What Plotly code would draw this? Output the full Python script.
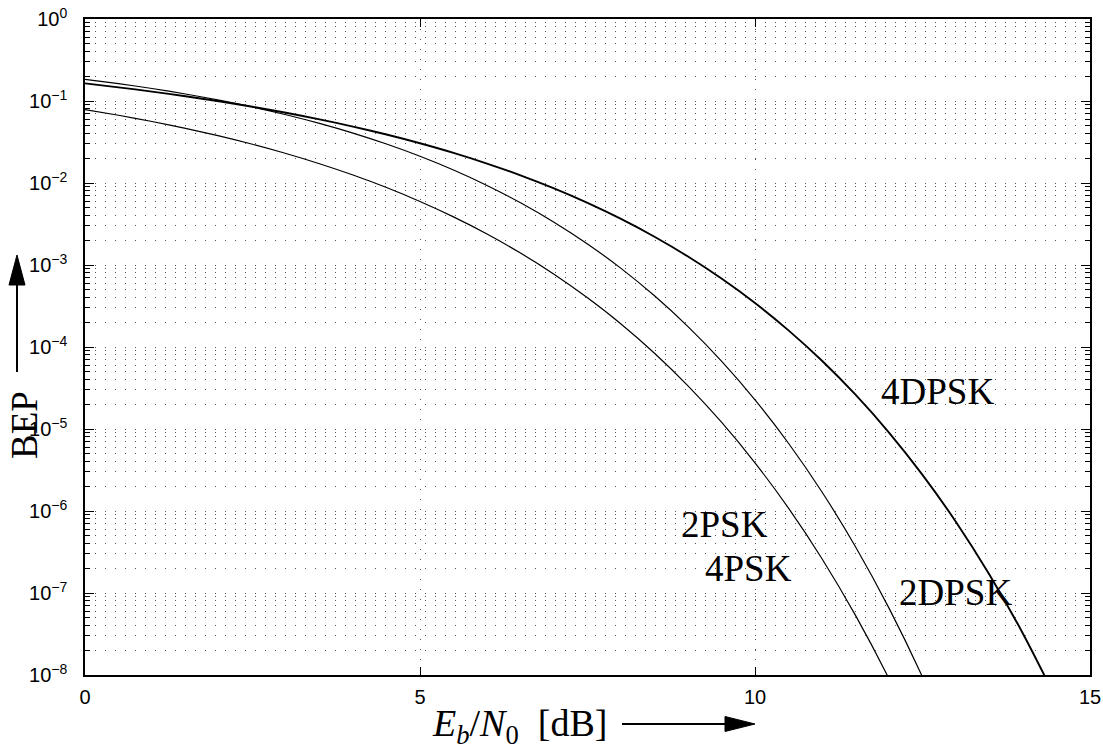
import plotly.graph_objects as go

# ---------------- data ----------------
ebn0_db = [0, 0.5, 1, 1.5, 2, 2.5, 3, 3.5, 4, 4.5, 5, 5.5, 6, 6.5, 7, 7.5,
           8, 8.5, 9, 9.5, 10, 10.5, 11, 11.5, 12, 12.5, 13, 13.5, 14, 14.5]

bep_2psk = [0.07865, 0.06706, 0.05628, 0.04640, 0.03751, 0.02966, 0.02288,
            0.01717, 0.01250, 0.00880, 0.00595, 0.00386, 0.002388, 0.001399,
            7.73e-4, 3.98e-4, 1.91e-4, 8.40e-5, 3.36e-5, 1.21e-5, 3.87e-6,
            1.085e-6, 2.62e-7, 5.33e-8, 9.0e-9, 1.24e-9]

bep_2dpsk = [0.18394, 0.16281, 0.14198, 0.12175, 0.10249, 0.08447, 0.06799,
             0.05329, 0.04057, 0.02985, 0.02116, 0.01439, 0.009333, 0.005742,
             0.003327, 0.001806, 9.10e-4, 4.21e-4, 1.774e-4, 6.73e-5, 2.27e-5,
             6.70e-6, 1.705e-6, 3.67e-7, 6.54e-8, 9.46e-9, 1.08e-9]

bep_4dpsk = [0.1639, 0.1468, 0.1302, 0.1143, 0.0993, 0.0851, 0.0719, 0.0598,
             0.04875, 0.0390, 0.0305, 0.02327, 0.01726, 0.01239, 0.00858,
             0.00572, 0.003646, 0.002211, 0.001269, 6.83e-4, 3.44e-4,
             1.595e-4, 6.80e-5, 2.62e-5, 9.05e-6, 2.76e-6, 7.35e-7, 1.671e-7,
             3.19e-8, 5.02e-9]

x_ticks = [0, 5, 10, 15]
y_exponents = [-8, -7, -6, -5, -4, -3, -2, -1, 0]
y_tick_vals = [10.0 ** e for e in y_exponents]
y_tick_text = ["10<sup>\u2212%d</sup>" % (-e) if e < 0 else "10<sup>0</sup>" for e in y_exponents]
y_minor_vals = [m * 10.0 ** e for e in y_exponents[:-1] for m in range(2, 10)]

curve_labels = [
    # text, x (dB), log10(BEP)
    ("4DPSK", 12.73, -4.545),
    ("2PSK", 9.55, -6.17),
    ("4PSK", 9.91, -6.70),
    ("2DPSK", 12.99, -6.99),
]

# ---------------- figure ----------------
W, H = 1103, 752
ML, MR, MT, MB = 85, 13, 19, 77
PW, PH = W - ML - MR, H - MT - MB


def px2paper_x(px):
    return (px - ML) / PW


def px2paper_y(py):
    return (H - MB - py) / PH


fig = go.Figure()

fig.add_trace(go.Scatter(x=ebn0_db[:len(bep_2psk)], y=bep_2psk, mode="lines",
                         line=dict(color="black", width=1.2, shape="spline", smoothing=0.8),
                         name="2PSK/4PSK", hoverinfo="x+y"))
fig.add_trace(go.Scatter(x=ebn0_db[:len(bep_2dpsk)], y=bep_2dpsk, mode="lines",
                         line=dict(color="black", width=1.2, shape="spline", smoothing=0.8),
                         name="2DPSK", hoverinfo="x+y"))
fig.add_trace(go.Scatter(x=ebn0_db[:len(bep_4dpsk)], y=bep_4dpsk, mode="lines",
                         line=dict(color="black", width=1.9, shape="spline", smoothing=0.8),
                         name="4DPSK", hoverinfo="x+y"))

grid_color = "#555555"
grid_dash = "1px,9px"

fig.update_xaxes(
    range=[0, 15], tickvals=x_ticks, ticktext=[str(v) for v in x_ticks],
    showline=True, linecolor="black", linewidth=1.5, mirror="allticks",
    ticks="inside", ticklen=8, tickcolor="black", tickwidth=1,
    showgrid=True, gridcolor=grid_color, griddash=grid_dash, gridwidth=1,
    zeroline=False, automargin=False,
    tickfont=dict(family="Liberation Sans, Arial, sans-serif", size=20, color="black"),
    ticklabelstandoff=3,
)
fig.update_yaxes(
    type="log", range=[-8, 0], tickvals=y_tick_vals, ticktext=y_tick_text,
    showline=True, linecolor="black", linewidth=1.5, mirror="allticks",
    ticks="inside", ticklen=9, tickcolor="black", tickwidth=1,
    showgrid=True, gridcolor=grid_color, griddash=grid_dash, gridwidth=1,
    zeroline=False, automargin=False,
    tickfont=dict(family="Liberation Sans, Arial, sans-serif", size=20, color="black"),
    ticklabelstandoff=12,
    minor=dict(tickvals=y_minor_vals, ticks="inside", ticklen=5, tickcolor="black",
               showgrid=True, gridcolor=grid_color, griddash=grid_dash, gridwidth=1),
)

serif = "Liberation Serif, Times New Roman, serif"

for text, xv, ly in curve_labels:
    fig.add_annotation(x=xv, y=ly, xref="x", yref="y", text=text, showarrow=False,
                       xanchor="center", yanchor="middle",
                       font=dict(family=serif, size=37, color="black"))

# axis titles
fig.add_annotation(x=px2paper_x(430), y=px2paper_y(726), xref="paper", yref="paper",
                   text="<i>E</i><sub><i>b</i></sub>/<i>N</i><sub>0</sub>\u2002[dB]",
                   showarrow=False, xanchor="left", yanchor="middle",
                   font=dict(family=serif, size=38, color="black"))
fig.add_annotation(x=px2paper_x(24), y=px2paper_y(425), xref="paper", yref="paper",
                   text="BEP", textangle=-90, showarrow=False,
                   xanchor="center", yanchor="middle",
                   font=dict(family=serif, size=37, color="black"))

# arrows next to axis titles
ay_ = 724
fig.add_shape(type="line", xref="paper", yref="paper",
              x0=px2paper_x(622), x1=px2paper_x(727), y0=px2paper_y(ay_), y1=px2paper_y(ay_),
              line=dict(color="black", width=2))
fig.add_shape(type="path", xref="paper", yref="paper",
              path="M %f %f L %f %f L %f %f Z" % (
                  px2paper_x(725), px2paper_y(ay_ - 7.5),
                  px2paper_x(755), px2paper_y(ay_),
                  px2paper_x(725), px2paper_y(ay_ + 7.5)),
              fillcolor="black", line=dict(color="black", width=1))
ax_ = 17
fig.add_shape(type="line", xref="paper", yref="paper",
              x0=px2paper_x(ax_), x1=px2paper_x(ax_), y0=px2paper_y(372), y1=px2paper_y(283),
              line=dict(color="black", width=2))
fig.add_shape(type="path", xref="paper", yref="paper",
              path="M %f %f L %f %f L %f %f Z" % (
                  px2paper_x(ax_ - 8), px2paper_y(285),
                  px2paper_x(ax_), px2paper_y(255),
                  px2paper_x(ax_ + 8), px2paper_y(285)),
              fillcolor="black", line=dict(color="black", width=1))

fig.update_layout(
    width=W, height=H,
    margin=dict(l=ML, r=MR, t=MT, b=MB, autoexpand=False),
    paper_bgcolor="white", plot_bgcolor="white",
    showlegend=False,
)

fig.write_html("out.html")
